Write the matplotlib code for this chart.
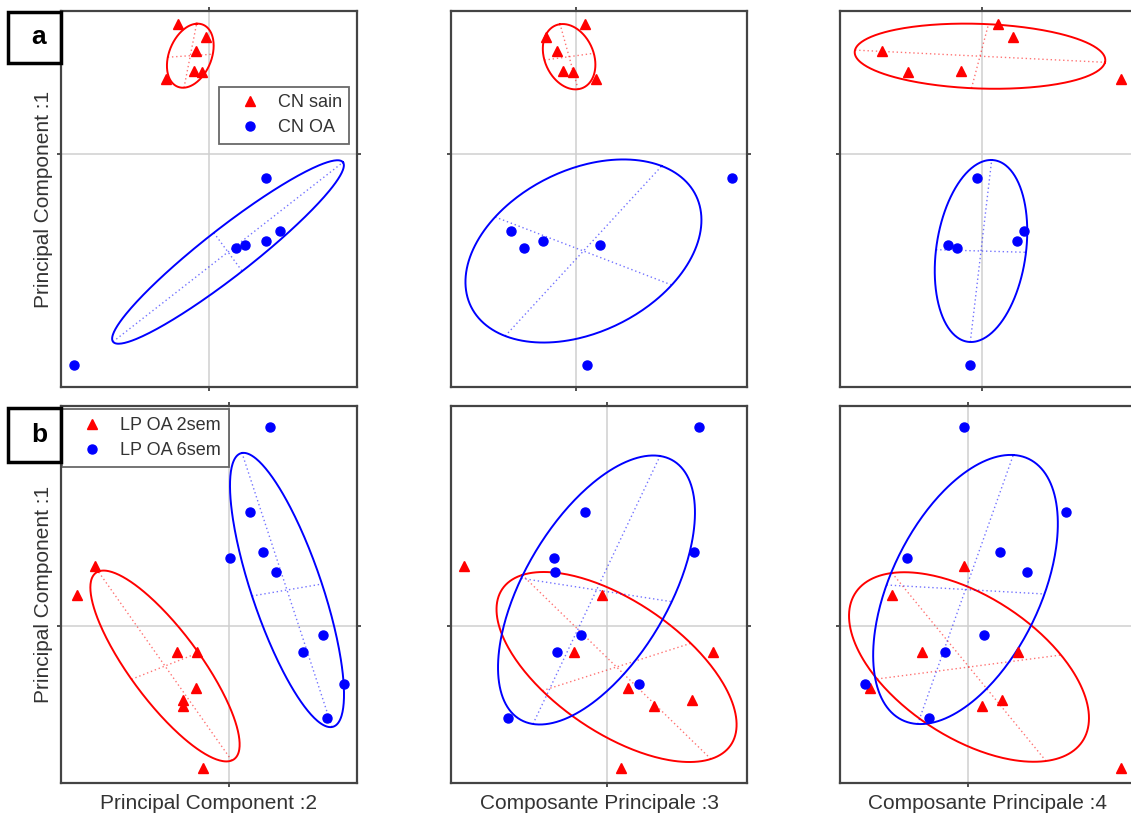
import numpy as np
import matplotlib
matplotlib.use("Agg")
import matplotlib.pyplot as plt
from matplotlib.patches import Rectangle

plt.rcParams["font.family"] = ["Liberation Sans", "DejaVu Sans"]

# ---- row a : CN sain / CN OA  (scores on PC1..PC4)
cn_sain_pc1 = [13.0, 11.67, 10.33, 8.33, 8.17, 7.47]
cn_sain_pc2 = [-3.07, -0.33, -1.3, -1.47, -0.73, -4.33]
cn_sain_pc3 = [0.83, -3.0, -1.93, -1.37, -0.37, 1.97]
cn_sain_pc4 = [1.66, 3.1, -9.94, -2.07, -7.4, 13.93]

cn_oa_pc1 = [-2.43, -9.43, -9.1, -8.67, -7.67, -21.13]
cn_oa_pc2 = [5.67, 2.7, 3.63, 5.67, 7.1, -13.5]
cn_oa_pc3 = [15.47, -5.2, 2.3, -3.37, -6.5, 1.07]
cn_oa_pc4 = [-0.43, -2.43, -3.4, 3.5, 4.26, -1.17]

# ---- row b : LP OA 2sem / LP OA 6sem
lp2_pc1 = [6.03, 3.1, -2.63, -2.57, -6.23, -7.4, -8.0, -14.23]
lp2_pc2 = [-13.4, -15.23, -5.17, -3.17, -3.3, -4.57, -4.57, -2.57]
lp2_pc3 = [-14.17, -0.5, -3.2, 10.63, 2.13, 8.53, 4.73, 1.47]
lp2_pc4 = [-0.4, -7.57, -4.63, 5.03, -9.8, 3.37, 1.43, 15.27]

lp6_pc1 = [19.93, 11.43, 7.37, 6.77, 5.37, -0.9, -2.63, -5.8, -9.23]
lp6_pc2 = [4.1, 2.1, 3.43, 0.1, 4.7, 9.37, 7.37, 11.53, 9.77]
lp6_pc3 = [9.17, -2.1, 8.67, -5.27, -5.17, -2.53, -4.93, 3.23, -9.83]
lp6_pc4 = [-0.4, 9.8, 3.23, -6.13, 5.87, 1.63, -2.3, -10.3, -3.9]

# confidence ellipses: centre, first half-axis, second half-axis (PCk, PC1)
cn_sain_ell = [((-1.87, 9.83), (0.63, 3.2), (2.25, 0.15)),
               ((-0.73, 9.73), (-0.9, 3.25), (2.46, 0.34)),
               ((-0.17, 9.78), (12.5, -0.61), (0.85, 3.2))]
cn_oa_ell = [((1.9, -9.8), (11.5, 8.97), (1.42, -1.92)),
             ((0.7, -9.7), (7.8, 8.5), (8.8, -3.4)),
             ((-0.07, -9.7), (1.07, 9.1), (4.5, -0.13))]
lp2_ell = [((-6.4, -4.0), (-6.67, 9.45), (3.35, 1.33)),
           ((1.0, -4.1), (-9.4, 9.2), (7.4, 2.37)),
           ((0.1, -4.1), (-7.7, 9.4), (9.2, 1.2))]
lp6_ell = [((5.8, 3.6), (-4.5, 13.7), (3.5, 0.6)),
           ((-1.0, 3.6), (6.33, 13.4), (7.5, -1.17)),
           ((-0.25, 3.65), (4.78, 13.45), (7.9, -0.45))]

x_labels = ["Principal Component :2", "Composante Principale :3", "Composante Principale :4"]
y_label = "Principal Component :1"

xlims = [[(-14.8, 14.8), (-12.5, 17.0), (-14.17, 15.43)],
         [(-16.8, 12.8), (-15.5, 14.0), (-12.8, 16.8)]]
ylims = [(-23.3, 14.3), (-15.7, 22.0)]

RED = "#ff0000"
BLUE = "#0000ff"
W, H = 1131.0, 816.0


def draw_ellipse(ax, ell, color):
    c, u, v = ell
    t = np.linspace(0, 2 * np.pi, 300)
    ax.plot(c[0] + u[0] * np.cos(t) + v[0] * np.sin(t),
            c[1] + u[1] * np.cos(t) + v[1] * np.sin(t),
            color=color, lw=1.4, zorder=2)
    for a in (u, v):
        ax.plot([c[0] - a[0], c[0] + a[0]], [c[1] - a[1], c[1] + a[1]],
                ls=(0, (1, 2)), color=color, lw=1.0, alpha=0.55, zorder=2)


rows = [
    [("CN sain", "^", RED, [cn_sain_pc2, cn_sain_pc3, cn_sain_pc4], cn_sain_pc1, cn_sain_ell),
     ("CN OA", "o", BLUE, [cn_oa_pc2, cn_oa_pc3, cn_oa_pc4], cn_oa_pc1, cn_oa_ell)],
    [("LP OA 2sem", "^", RED, [lp2_pc2, lp2_pc3, lp2_pc4], lp2_pc1, lp2_ell),
     ("LP OA 6sem", "o", BLUE, [lp6_pc2, lp6_pc3, lp6_pc4], lp6_pc1, lp6_ell)],
]

col_px = [61, 451, 840]
row_px = [(11, 387), (406, 783)]
panel_w = 296

fig = plt.figure(figsize=(W / 100, H / 100), dpi=100)

for r in range(2):
    top, bot = row_px[r]
    for k in range(3):
        ax = fig.add_axes([col_px[k] / W, 1 - bot / H, panel_w / W, (bot - top) / H])
        ax.axhline(0, color="#cfcfcf", lw=1.1, zorder=0)
        ax.axvline(0, color="#cfcfcf", lw=1.1, zorder=0)
        for name, mk, col, xs, ys, ells in rows[r]:
            draw_ellipse(ax, ells[k], col)
            ax.plot(xs[k], ys, mk, color=col, mec=col,
                    ms=7.5 if mk == "^" else 6.5, ls="none", zorder=3, label=name)
        ax.set_xlim(*xlims[r][k])
        ax.set_ylim(*ylims[r])
        ax.set_xticks([0])
        ax.set_yticks([0])
        ax.tick_params(direction="out", length=3, width=1.2, color="#333333",
                       top=True, right=True, labelbottom=False, labelleft=False)
        for s in ax.spines.values():
            s.set_color("#444444")
            s.set_linewidth(1.6)
        if k == 0:
            ax.set_ylabel(y_label, fontsize=15, color="#333333", labelpad=3)
        if r == 1:
            ax.set_xlabel(x_labels[k], fontsize=15, color="#333333", labelpad=5)
        if k == 0:
            anchor = (0.974, 0.799) if r == 0 else (0.004, 0.991)
            leg = ax.legend(loc="upper right" if r == 0 else "upper left",
                            bbox_to_anchor=anchor,
                            fontsize=13, numpoints=1, fancybox=False,
                            handlelength=2.5, handletextpad=0.3, borderpad=0.42,
                            labelspacing=0.45, borderaxespad=0)
            leg.get_frame().set_edgecolor("#444444")
            leg.get_frame().set_linewidth(1.3)
            for txt in leg.get_texts():
                txt.set_color("#333333")

# panel letters
for letter, (y0, y1) in zip(["a", "b"], [(12, 63), (408, 462)]):
    fig.add_artist(Rectangle((8 / W, 1 - y1 / H), 53.5 / W, (y1 - y0) / H,
                             transform=fig.transFigure, fill=False,
                             edgecolor="black", lw=2.5))
    fig.text(39 / W, 1 - (y0 + y1) / 2 / H, letter, fontsize=19, fontweight="bold",
             ha="center", va="center")

fig.savefig("out.png", dpi=100)
